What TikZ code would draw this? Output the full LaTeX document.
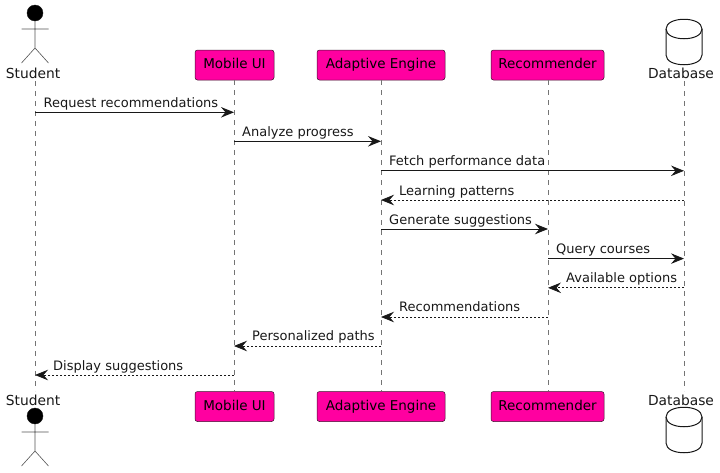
\documentclass[tikz,border=0pt]{standalone}
\usepackage{fontspec}
\setmainfont{DejaVu Sans}
\usetikzlibrary{arrows.meta}
\definecolor{boxpink}{HTML}{FF00A0}
\definecolor{ink}{HTML}{181818}
\tikzset{
  part/.style={draw=ink!85!boxpink,line width=0.5pt,fill=boxpink,rounded corners=2.5pt,minimum height=30pt,inner sep=0pt,text height=10.2pt,text depth=3pt,font=\fontsize{13.5}{16}\selectfont,text=black},
  lbl/.style={inner sep=0pt,font=\fontsize{13.8}{16}\selectfont,text=ink},
  msgtxt/.style={inner sep=0pt,anchor=base west,font=\fontsize{13}{15}\selectfont,text=ink},
  life/.style={draw=ink!60,line width=0.5pt,dash pattern=on 5pt off 5pt},
  msg/.style={draw=ink,line width=0.9pt,-{Stealth[length=13pt,width=10.5pt,inset=4.5pt]}},
  ret/.style={draw=ink,line width=0.8pt,dash pattern=on 2pt off 2pt,-{Stealth[length=13pt,width=10.5pt,inset=4.5pt,line width=0.8pt,sep=0pt]}},
  stick/.style={draw=ink!75,line width=0.6pt},
  dbshape/.style={draw=ink,line width=1pt}
}
\newcommand{\actorfig}[2]{%
  \fill[black,draw=ink] (#1,#2) circle (8pt);
  \draw[stick] (#1,#2+8) -- (#1,#2+35) (#1-13.5,#2+16) -- (#1+13.5,#2+16)
    (#1-13.5,#2+50) -- (#1,#2+35) -- (#1+13.5,#2+50);
}
\newcommand{\dbfig}[2]{%
  \draw[dbshape,rounded corners=0pt] (#1-18,#2+10)
    .. controls (#1-18,#2-3) and (#1+18,#2-3) .. (#1+18,#2+10)
    -- (#1+18,#2+36)
    .. controls (#1+18,#2+49) and (#1-18,#2+49) .. (#1-18,#2+36) -- cycle;
  \draw[dbshape] (#1-18,#2+10) .. controls (#1-18,#2+23) and (#1+18,#2+23) .. (#1+18,#2+10);
}
\begin{document}
\begin{tikzpicture}[x=1pt,y=-1pt]
\useasboundingbox (0,0) rectangle (720,472);
% rows
\foreach \n/\y in {1/112.3,2/141.3,3/170.8,4/200,5/229,6/258.6,7/287.8,8/317,9/346,10/375}{\coordinate (r\n) at (0,\y);}
% top row
\node[lbl] (stuT) at (33,73) {Student};
\node[part,minimum width=79pt] (mobT) at (234.5,65) {Mobile UI};
\node[part,minimum width=128pt] (adaT) at (381,65) {Adaptive Engine};
\node[part,minimum width=113pt] (recT) at (547.5,65) {Recommender};
\node[lbl] (dbT) at (681,73) {Database};
% bottom row
\node[lbl] (stuB) at (33,400) {Student};
\node[part,minimum width=79pt] (mobB) at (234.5,406.5) {Mobile UI};
\node[part,minimum width=128pt] (adaB) at (381,406.5) {Adaptive Engine};
\node[part,minimum width=113pt] (recB) at (547.5,406.5) {Recommender};
\node[lbl] (dbB) at (681,400) {Database};
% lifeline ends
\coordinate (stuS) at (35,81); \coordinate (stuE) at (35,391);
\coordinate (dbS) at (684,81); \coordinate (dbE) at (684,391);
\coordinate (mobL) at (234,0); \coordinate (adaL) at (381,0); \coordinate (recL) at (548,0);
% lifelines
\draw[life] (stuS) -- (stuE);
\draw[life] (mobL |- mobT.south) -- (mobL |- mobB.north);
\draw[life] (adaL |- adaT.south) -- (adaL |- adaB.north);
\draw[life] (recL |- recT.south) -- (recL |- recB.north);
\draw[life] (dbS) -- (dbE);
% figures
\actorfig{35}{13}
\actorfig{35}{416}
\dbfig{684}{19}
\dbfig{684}{407}
% messages
\draw[msg] (stuS |- r1) -- (mobL |- r1);
\node[msgtxt] at (43.5,107.5) {Request recommendations};
\draw[msg] (mobL |- r2) -- (adaL |- r2);
\node[msgtxt] at (242,136.5) {Analyze progress};
\draw[msg] (adaL |- r3) -- (dbS |- r3);
\node[msgtxt] at (389,165.5) {Fetch performance data};
\draw[ret] (dbS |- r4) -- (adaL |- r4);
\node[msgtxt] at (399,195) {Learning patterns};
\draw[msg] (adaL |- r5) -- (recL |- r5);
\node[msgtxt] at (389,224) {Generate suggestions};
\draw[msg] (recL |- r6) -- (dbS |- r6);
\node[msgtxt] at (556,253.5) {Query courses};
\draw[ret] (dbS |- r7) -- (recL |- r7);
\node[msgtxt] at (566,282.5) {Available options};
\draw[ret] (recL |- r8) -- (adaL |- r8);
\node[msgtxt] at (399,311.5) {Recommendations};
\draw[ret] (adaL |- r9) -- (mobL |- r9);
\node[msgtxt] at (252,340.5) {Personalized paths};
\draw[ret] (mobL |- r10) -- (stuS |- r10);
\node[msgtxt] at (53,370) {Display suggestions};
\end{tikzpicture}
\end{document}
